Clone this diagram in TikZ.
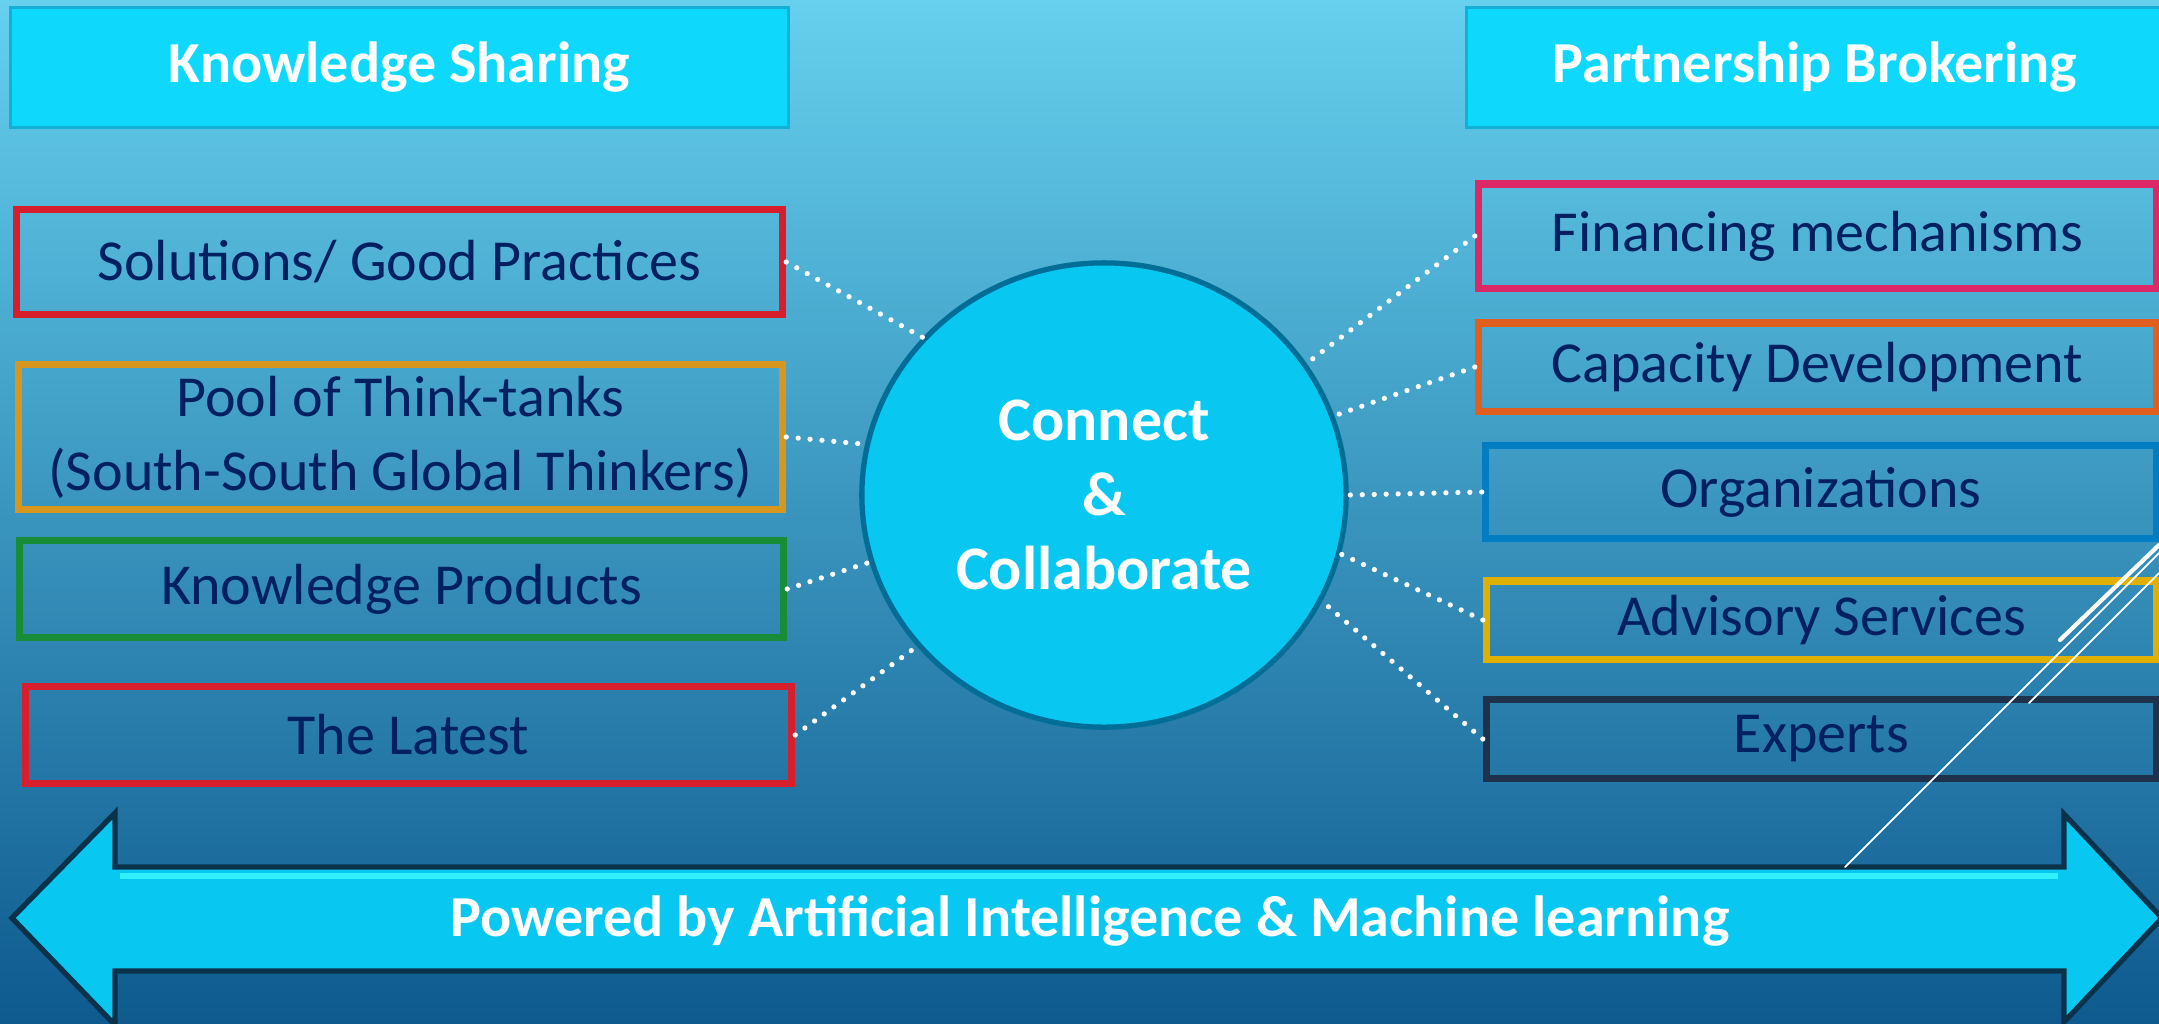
\documentclass[tikz,border=0pt]{standalone}
\usepackage{fontspec}
\setmainfont{Carlito}
\usetikzlibrary{shapes.geometric}

\definecolor{navy}{RGB}{0,32,96}
\definecolor{bgtop}{RGB}{102,208,238}
\definecolor{bgbot}{RGB}{14,90,142}
\definecolor{headfill}{RGB}{14,217,253}
\definecolor{headedge}{RGB}{20,175,212}
\definecolor{ballfill}{RGB}{8,200,242}
\definecolor{balledge}{RGB}{0,110,150}
\definecolor{arrowedge}{RGB}{10,50,75}
\definecolor{glint}{RGB}{50,240,255}
\definecolor{redbox}{RGB}{215,30,45}
\definecolor{goldbox}{RGB}{215,150,30}
\definecolor{greenbox}{RGB}{25,140,55}
\definecolor{pinkbox}{RGB}{220,40,100}
\definecolor{orangebox}{RGB}{225,95,30}
\definecolor{bluebox}{RGB}{0,125,195}
\definecolor{yellowbox}{RGB}{225,175,0}
\definecolor{darkbox}{RGB}{30,50,75}

\begin{document}
\begin{tikzpicture}[x=0.01cm, y=-0.01cm,
	head/.style={draw=headedge, fill=headfill, line width=0.8pt, minimum height=1.2cm, text=white, font=\fontsize{16.5}{20}\selectfont\bfseries},
	item/.style={draw, line width=2pt, text=navy, align=center, font=\fontsize{16.5}{21}\selectfont},
	link/.style={white, line width=1.5pt, line cap=round, dash pattern=on 0pt off 3.4pt},
	slash/.style={white, line cap=round}]
		\useasboundingbox (0,0) rectangle (2159,1023);
		\shade[top color=bgtop, bottom color=bgbot] (0,0) rectangle (2159,1023);
		
		\node[head, minimum width=7.77cm] (ks) at (399.5,67.5) {Knowledge Sharing};
		\node[head, minimum width=6.96cm] (pb) at (1815,67.5) {Partnership Brokering};
		
		\node[item, draw=redbox, minimum width=7.66cm, minimum height=1.05cm] (sol) at (399.5,262) {Solutions/ Good Practices};
		\node[item, draw=goldbox, minimum width=7.64cm, minimum height=1.39cm] (pool) at (400.5,437) {Pool of Think-tanks\\(South-South Global Thinkers)};
		\node[item, draw=greenbox, minimum width=7.64cm, minimum height=0.97cm] (kp) at (401.5,589) {Knowledge Products};
		\node[item, draw=redbox, minimum width=7.66cm, minimum height=0.97cm] (latest) at (408.5,735) {The Latest};
		
		\node[item, draw=pinkbox, minimum width=6.78cm, minimum height=1.04cm] (fin) at (1817.5,236) {Financing mechanisms};
		\node[item, draw=orangebox, minimum width=6.78cm, minimum height=0.88cm] (cap) at (1817.5,367) {Capacity Development};
		\node[item, draw=bluebox, minimum width=6.71cm, minimum height=0.93cm] (org) at (1821,492) {Organizations};
		\node[item, draw=yellowbox, minimum width=6.70cm, minimum height=0.78cm] (adv) at (1821.5,620) {Advisory Services};
		\node[item, draw=darkbox, minimum width=6.70cm, minimum height=0.79cm] (exp) at (1821.5,739) {Experts};
		
		\node[ellipse, fill=ballfill, draw=balledge, line width=1.5pt, minimum width=4.84cm, minimum height=4.64cm, text=white, align=center, font=\fontsize{17.6}{21.3}\selectfont\bfseries] (cc) at (1104,495) {Connect\\\&\\Collaborate};
		
		\path
		(sol.east) edge[link] (cc.139)
		(pool.east) edge[link] (cc.168)
		(kp.east) edge[link] (cc.196)
		(latest.east) edge[link] (cc.219)
		(fin.west) edge[link] (cc.33)
		(cap.west) edge[link] (cc.19)
		(org.west) edge[link] (cc.0)
		(adv.west) edge[link] (cc.-14)
		(exp.west) edge[link] (cc.-26);
		
		% two-headed band along the bottom
		\draw[draw=arrowedge, line width=1.5pt, fill=ballfill, line join=miter]
		(12,918) -- (115,813) -- (115,867) -- (2064,867) -- (2064,814) -- (2162,918)
		-- (2064,1022) -- (2064,971) -- (115,971) -- (115,1025) -- cycle;
		\draw[glint, line width=1.5pt] (120,876) -- (2058,876);
		\node[text=white, font=\fontsize{16.5}{20}\selectfont\bfseries] (ai) at (1090,921) {Powered by Artificial Intelligence \& Machine learning};
		
		\draw[slash, line width=1.2pt] (2159,545) -- (2060,640);
		\draw[slash, line width=0.5pt] (2159,553) -- (1845,867);
		\draw[slash, line width=0.5pt] (2159,573) -- (2029,703);
		
	\end{tikzpicture}
\end{document}
